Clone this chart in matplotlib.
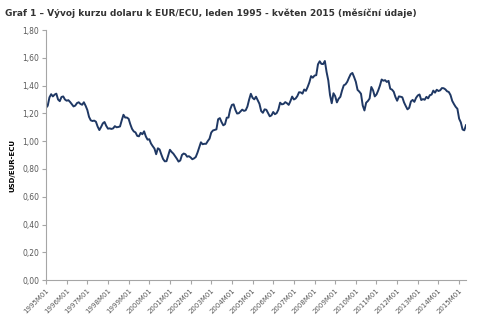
import numpy as np
import matplotlib.pyplot as plt

# monthly USD per EUR (ECU before 1999), Jan 1995 - May 2015
years = list(range(1995, 2016))
rates_1995 = [1.240, 1.255, 1.315, 1.338, 1.322, 1.335, 1.342, 1.300, 1.288, 1.318, 1.322, 1.300]
rates_1996 = [1.291, 1.295, 1.282, 1.266, 1.250, 1.256, 1.274, 1.280, 1.268, 1.262, 1.280, 1.255]
rates_1997 = [1.225, 1.175, 1.150, 1.145, 1.148, 1.140, 1.105, 1.080, 1.102, 1.128, 1.138, 1.110]
rates_1998 = [1.090, 1.092, 1.088, 1.092, 1.108, 1.100, 1.102, 1.106, 1.150, 1.190, 1.170, 1.170]
rates_1999 = [1.161, 1.121, 1.088, 1.070, 1.063, 1.038, 1.035, 1.060, 1.050, 1.071, 1.034, 1.011]
rates_2000 = [1.014, 0.983, 0.964, 0.947, 0.906, 0.949, 0.940, 0.904, 0.872, 0.855, 0.856, 0.897]
rates_2001 = [0.938, 0.922, 0.910, 0.892, 0.874, 0.853, 0.861, 0.901, 0.911, 0.906, 0.888, 0.892]
rates_2002 = [0.883, 0.870, 0.876, 0.886, 0.917, 0.955, 0.992, 0.978, 0.981, 0.981, 1.001, 1.018]
rates_2003 = [1.062, 1.077, 1.081, 1.085, 1.158, 1.166, 1.137, 1.114, 1.122, 1.169, 1.170, 1.229]
rates_2004 = [1.261, 1.265, 1.226, 1.199, 1.201, 1.214, 1.227, 1.218, 1.222, 1.249, 1.299, 1.341]
rates_2005 = [1.312, 1.301, 1.320, 1.294, 1.269, 1.217, 1.204, 1.229, 1.226, 1.202, 1.179, 1.186]
rates_2006 = [1.210, 1.194, 1.202, 1.227, 1.277, 1.265, 1.268, 1.281, 1.273, 1.261, 1.288, 1.321]
rates_2007 = [1.300, 1.307, 1.324, 1.352, 1.351, 1.342, 1.372, 1.362, 1.390, 1.423, 1.468, 1.457]
rates_2008 = [1.472, 1.475, 1.553, 1.575, 1.556, 1.555, 1.577, 1.498, 1.437, 1.332, 1.273, 1.345]
rates_2009 = [1.324, 1.279, 1.305, 1.319, 1.365, 1.402, 1.409, 1.427, 1.456, 1.482, 1.491, 1.461]
rates_2010 = [1.427, 1.369, 1.357, 1.341, 1.257, 1.221, 1.277, 1.289, 1.307, 1.390, 1.366, 1.322]
rates_2011 = [1.336, 1.365, 1.400, 1.444, 1.435, 1.439, 1.426, 1.434, 1.377, 1.371, 1.356, 1.318]
rates_2012 = [1.291, 1.322, 1.320, 1.316, 1.279, 1.253, 1.229, 1.240, 1.286, 1.297, 1.283, 1.312]
rates_2013 = [1.329, 1.336, 1.296, 1.303, 1.298, 1.319, 1.308, 1.331, 1.335, 1.364, 1.349, 1.370]
rates_2014 = [1.361, 1.366, 1.382, 1.381, 1.373, 1.359, 1.354, 1.332, 1.290, 1.267, 1.247, 1.233]
rates_2015 = [1.162, 1.135, 1.084, 1.078, 1.115]

rates = (rates_1995 + rates_1996 + rates_1997 + rates_1998 + rates_1999 + rates_2000
         + rates_2001 + rates_2002 + rates_2003 + rates_2004 + rates_2005 + rates_2006
         + rates_2007 + rates_2008 + rates_2009 + rates_2010 + rates_2011 + rates_2012
         + rates_2013 + rates_2014 + rates_2015)
tick_labels = [str(y) + "M01" for y in years]
y_ticks = [0.0, 0.2, 0.4, 0.6, 0.8, 1.0, 1.2, 1.4, 1.6, 1.8]

grey = '#595959'
axis_grey = '#a6a6a6'

fig = plt.figure(figsize=(5, 3.28), dpi=100)
ax = fig.add_axes([0.092, 0.146, 0.84, 0.7625])

x = np.arange(len(rates))
ax.plot(x, rates, color='#1f3864', linewidth=1.4)

ax.set_xlim(0, len(rates) - 1)
ax.set_ylim(0, 1.8)
ax.set_xticks(np.arange(0, len(rates), 12))
ax.set_xticklabels(tick_labels, rotation=45, ha='right', rotation_mode='anchor',
                   fontsize=5, color=grey)
ax.set_yticks(y_ticks)
ax.yaxis.set_major_formatter(plt.FuncFormatter(lambda v, p: ('%.2f' % v).replace('.', ',')))
for lbl in ax.get_yticklabels():
    lbl.set_fontsize(5.5)
    lbl.set_color(grey)

for side in ['top', 'right']:
    ax.spines[side].set_visible(False)
for side in ['left', 'bottom']:
    ax.spines[side].set_color(axis_grey)
    ax.spines[side].set_linewidth(0.8)
ax.tick_params(axis='both', direction='out', length=3, width=0.8, color=axis_grey, pad=2)
ax.tick_params(axis='y', labelsize=5.5, labelcolor=grey)

ax.set_ylabel('USD/EUR-ECU', fontsize=5, fontweight='bold')
ax.yaxis.set_label_coords(-0.072, 0.46)

fig.text(0.01, 0.975, 'Graf 1 \u2013 Vývoj kurzu dolaru k EUR/ECU, leden 1995 - květen 2015 (měsíční údaje)',
         fontsize=6.5, fontweight='bold', color='#333333', va='top', ha='left')

fig.savefig('out.png', dpi=100)
